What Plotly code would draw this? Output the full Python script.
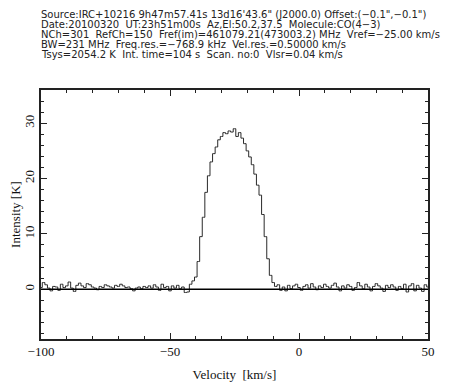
import plotly.graph_objects as go

# Header lines (CLASS spectrum header)
header_lines = [
    "Source:IRC+10216 9h47m57.41s 13d16'43.6\" (J2000.0) Offset:(\u22120.1\",\u22120.1\")",
    "Date:20100320  UT:23h51m00s  Az,El:50.2,37.5  Molecule:CO(4\u22123)",
    "NCh=301  RefCh=150  Fref(im)=461079.21(473003.2) MHz  Vref=\u221225.00 km/s",
    "BW=231 MHz  Freq.res.=\u2212768.9 kHz  Vel.res.=0.50000 km/s",
    "Tsys=2054.2 K  Int. time=104 s  Scan. no:0  Vlsr=0.04 km/s",
]

# Spectrum: first velocity and channel step (km/s), intensities (K)
v_start = -100
v_step = 1
intensity = [
    0.3, 1.2, 0.8, 0.2, -0.3, 0.5, 0.4, -0.2, 0.9, 0.3,      # -100 .. -91
    0.6, 1.3, 0.2, -0.4, 0.7, 1.1, 0.6, 0.3, 1.0, 0.8,       # -90 .. -81
    0.4, 0.2, -0.1, 0.5, 0.3, 0.8, 0.6, 0.4, 0.2, 0.7,       # -80 .. -71
    0.5, 0.9, 0.6, 0.3, 0.4, 0.1, -0.3, 0.2, 0.4, 0.1,       # -70 .. -61
    0.5, 0.3, 0.6, 0.2, 0.8, 0.4, -0.2, 0.9, 0.3, 0.5,       # -60 .. -51
    -0.3, 0.6, 0.2, 0.7, 0.1, 0.4, -0.6, -0.5, 0.9, 1.5,     # -50 .. -41
    2.2, 5.0, 9.5, 13.0, 17.5, 20.5, 23.0, 24.5, 25.7, 27.0,  # -40 .. -31
    27.6, 28.3, 28.1, 28.6, 28.4, 29.0, 27.6, 28.3, 27.3, 26.3,  # -30 .. -21
    25.0, 23.9, 22.5, 20.8, 18.8, 17.0, 13.5, 9.5, 5.5, 2.5,  # -20 .. -11
    1.2, 0.5, 0.8, -0.2, 0.4, -0.3, 0.7, 0.1, 0.6, 0.9,      # -10 .. -1
    0.3, -0.2, 0.5, 0.8, 0.2, 1.0, 0.4, -0.1, 0.6, 0.3,      # 0 .. 9
    0.9, 0.5, 0.2, 0.7, 1.1, 0.4, -0.3, 0.6, 0.2, 0.8,       # 10 .. 19
    0.5, -0.2, 0.3, 1.2, 0.6, 0.1, 0.9, 0.4, -0.3, 0.5,      # 20 .. 29
    1.0, 0.6, 0.2, -0.4, 0.7, 0.3, 0.8, 0.4, -0.2, 0.5,      # 30 .. 39
    0.1, 0.9, -0.5, 0.6, 1.0, -0.3, 0.7, 0.2, -0.4, 0.8,     # 40 .. 49
    0.4,                                                     # 50
]

baseline_level = 0
x_range = [-100, 50]
y_range = [-9, 36]
x_tickvals = [-100, -50, 0, 50]
y_tickvals = [0, 10, 20, 30]

fig = go.Figure()
fig.add_trace(go.Scatter(
    x0=v_start, dx=v_step, y=intensity, mode="lines",
    line=dict(color="#2a2a2a", width=1, shape="hvh"),
    showlegend=False, hoverinfo="skip",
))
fig.add_shape(type="line", xref="x", yref="y",
              x0=x_range[0], x1=x_range[1], y0=baseline_level, y1=baseline_level,
              line=dict(color="black", width=1.5))

for i, line in enumerate(header_lines):
    fig.add_annotation(
        text=line, xref="paper", yref="paper", x=0, y=1,
        xanchor="left", yanchor="middle", showarrow=False,
        xshift=-2, yshift=(90 - 14) - 10 * i,
        font=dict(family="DejaVu Sans, Verdana, sans-serif", size=10, color="#222222"),
    )

axis_font = dict(family="Liberation Serif, Times New Roman, serif", size=13, color="#111111")
fig.update_xaxes(
    range=x_range, tickvals=x_tickvals, ticks="inside", ticklen=6, tickwidth=1,
    tickcolor="#222222", showline=True, linecolor="#222222", linewidth=1.5,
    mirror="ticks", showgrid=False, zeroline=False, tickfont=axis_font,
    automargin=False,
    minor=dict(dtick=10, ticks="inside", ticklen=3, tickcolor="#222222", showgrid=False),
    title=dict(text="Velocity  [km/s]", font=axis_font, standoff=12),
)
fig.update_yaxes(
    range=y_range, tickvals=y_tickvals, ticks="inside", ticklen=6, tickwidth=1,
    tickcolor="#222222", showline=True, linecolor="#222222", linewidth=1.5,
    mirror="ticks", showgrid=False, zeroline=False, tickfont=axis_font,
    tickangle=-90, automargin=False,
    minor=dict(dtick=2, ticks="inside", ticklen=3, tickcolor="#222222", showgrid=False),
    title=dict(text="Intensity [K]", font=axis_font, standoff=13),
)
# page body adds an 8px offset; margins compensate so the frame lands at
# x 41..428, y 90..339 in the window
fig.update_layout(
    width=456, height=384,
    margin=dict(l=33, r=36, t=82, b=53),
    paper_bgcolor="white", plot_bgcolor="white",
)
fig.write_html("out.html")
